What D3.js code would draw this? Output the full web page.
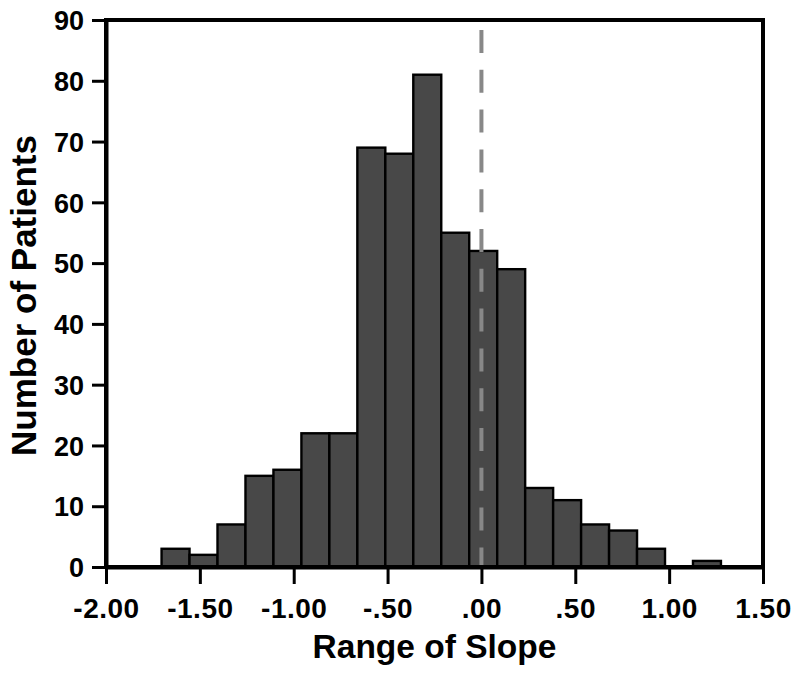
<!DOCTYPE html>
<html>
<head>
<meta charset="utf-8">
<script src="https://cdn.jsdelivr.net/npm/d3@7"></script>
<style>
  body { margin: 0; background: #fff; }
  text { font-family: "Liberation Sans", Arial, Helvetica, sans-serif; font-weight: bold; fill: #000; }
</style>
</head>
<body>
<div id="chart"></div>
<script>
// bin edges of the histogram (lower edge of each bar, last entry is the upper edge of the last bar)
const binEdges = [-1.704, -1.555, -1.406, -1.257, -1.108, -0.959, -0.810, -0.661, -0.512, -0.363,
                  -0.214, -0.065, 0.084, 0.233, 0.382, 0.531, 0.680, 0.829, 0.978, 1.127, 1.276];
const counts = [3, 2, 7, 15, 16, 22, 22, 69, 68, 81, 55, 52, 49, 13, 11, 7, 6, 3, 0, 1];

const xTicks = [-2, -1.5, -1, -0.5, 0, 0.5, 1, 1.5];
const xTickLabels = ["-2.00", "-1.50", "-1.00", "-.50", ".00", ".50", "1.00", "1.50"];
const yTicks = [0, 10, 20, 30, 40, 50, 60, 70, 80, 90];
const refLine = 0;

const width = 800;
const height = 678;
const margin = { top: 20, right: 37, bottom: 111, left: 106 };

const svg = d3.select("#chart")
    .append("svg")
    .attr("width", width)
    .attr("height", height);

const x = d3.scaleLinear()
    .domain([-2, 1.5])
    .range([margin.left, width - margin.right]);

const y = d3.scaleLinear()
    .domain([0, 90])
    .range([height - margin.bottom, margin.top]);

const bars = counts.map((c, i) => ({ x0: binEdges[i], x1: binEdges[i + 1], count: c }));

svg.selectAll("rect.bar")
    .data(bars)
    .enter()
    .append("rect")
    .attr("class", "bar")
    .attr("x", d => x(d.x0))
    .attr("width", d => x(d.x1) - x(d.x0))
    .attr("y", d => y(d.count))
    .attr("height", d => y(0) - y(d.count))
    .attr("fill", "#484848")
    .attr("stroke", "#000")
    .attr("stroke-width", 2.4);

// dashed reference line
svg.append("line")
    .attr("x1", x(refLine))
    .attr("x2", x(refLine))
    .attr("y1", y(90))
    .attr("y2", y(0))
    .attr("stroke", "#888")
    .attr("stroke-width", 4)
    .attr("stroke-dasharray", "23 16.8")
    .attr("stroke-dashoffset", 29.8);

// frame
svg.append("rect")
    .attr("x", x(-2))
    .attr("y", y(90))
    .attr("width", x(1.5) - x(-2))
    .attr("height", y(0) - y(90))
    .attr("fill", "none")
    .attr("stroke", "#000")
    .attr("stroke-width", 4);

const xAxis = d3.axisBottom(x)
    .tickValues(xTicks)
    .tickFormat((d, i) => xTickLabels[i])
    .tickSizeInner(17)
    .tickSizeOuter(0)
    .tickPadding(6);

const yAxis = d3.axisLeft(y)
    .tickValues(yTicks)
    .tickSizeInner(14)
    .tickSizeOuter(0)
    .tickPadding(8);

const gx = svg.append("g")
    .attr("transform", "translate(0," + y(0) + ")")
    .call(xAxis);
gx.select(".domain").attr("stroke-width", 4);
gx.selectAll(".tick line").attr("stroke-width", 3);
gx.selectAll(".tick text")
    .attr("font-size", 28)
    .attr("letter-spacing", 0.5)
    .attr("dy", "1.0em");

const gy = svg.append("g")
    .attr("transform", "translate(" + x(-2) + ",0)")
    .call(yAxis);
gy.select(".domain").attr("stroke-width", 4);
gy.selectAll(".tick line").attr("stroke-width", 3);
gy.selectAll(".tick text")
    .attr("font-size", 27)
    .attr("dy", "0.36em");

svg.selectAll("g").attr("font-family", null).attr("font-size", null);

svg.append("text")
    .attr("x", (x(-2) + x(1.5)) / 2)
    .attr("y", 658)
    .attr("text-anchor", "middle")
    .attr("font-size", 33.5)
    .text("Range of Slope");

svg.append("text")
    .attr("transform", "translate(36," + ((y(0) + y(90)) / 2 + 2) + ") rotate(-90)")
    .attr("text-anchor", "middle")
    .attr("font-size", 35)
    .text("Number of Patients");
</script>
</body>
</html>
